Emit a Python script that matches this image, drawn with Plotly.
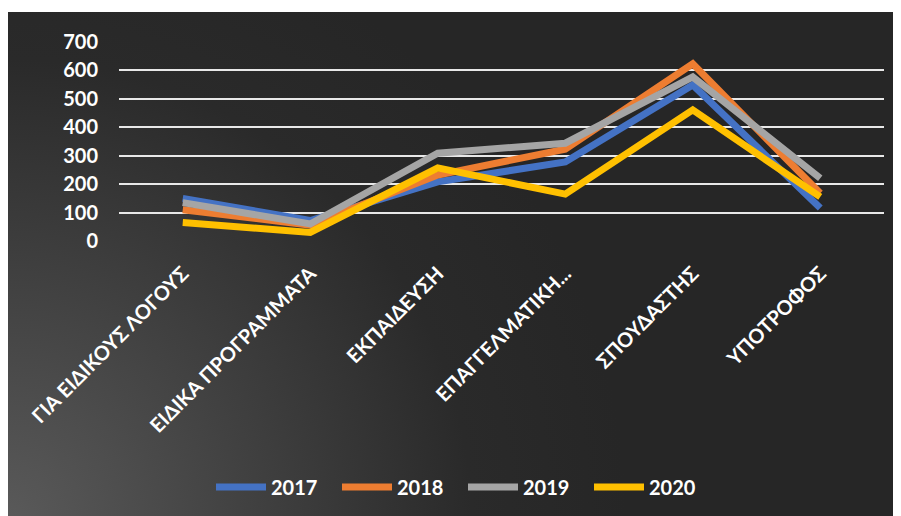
import base64
import plotly.graph_objects as go

categories = ["ΓΙΑ ΕΙΔΙΚΟΥΣ ΛΟΓΟΥΣ", "ΕΙΔΙΚΑ ΠΡΟΓΡΑΜΜΑΤΑ", "ΕΚΠΑΙΔΕΥΣΗ",
              "ΕΠΑΓΓΕΛΜΑΤΙΚΗ...", "ΣΠΟΥΔΑΣΤΗΣ", "ΥΠΟΤΡΟΦΟΣ"]
v2017 = [150, 72, 208, 278, 549, 116]
v2018 = [110, 56, 232, 323, 623, 168]
v2019 = [135, 60, 309, 344, 577, 221]
v2020 = [65, 30, 257, 165, 461, 155]
series = [("2017", v2017, "#4472C4"), ("2018", v2018, "#ED7D31"),
          ("2019", v2019, "#A5A5A5"), ("2020", v2020, "#FFC000")]
yticks = [0, 100, 200, 300, 400, 500, 600, 700]

W, H = 901, 516
OFF = 8  # page body offset
L, R, T, B = 119 - OFF, 25, 42 - OFF, 283

fig = go.Figure()
for name, vals, col in series:
    fig.add_trace(go.Scatter(x=categories, y=vals, name=name, mode="lines",
                             line=dict(color=col, width=7), cliponaxis=False))

svg = ('<svg xmlns="http://www.w3.org/2000/svg" width="902" height="512" viewBox="0 0 902 512" preserveAspectRatio="none">'
       '<defs><radialGradient id="g" cx="0" cy="512" r="620" gradientUnits="userSpaceOnUse">'
       '<stop offset="0" stop-color="#5a5a5a"/><stop offset="0.75" stop-color="#2a2a2a"/>'
       '<stop offset="1" stop-color="#262626"/></radialGradient></defs>'
       '<rect width="902" height="512" fill="#262626"/>'
       '<rect width="902" height="512" fill="url(#g)"/></svg>')
src = "data:image/svg+xml;base64," + base64.b64encode(svg.encode()).decode()

pw = W - L - R
ph = H - T - B
px0, px1 = 7 - OFF, W
py0, py1 = 12 - OFF, H
x0 = (px0 - L) / pw
x1 = (px1 - L) / pw
y_top = (H - B - py0) / ph
y_bot = (H - B - py1) / ph

fig.add_layout_image(dict(source=src, xref="paper", yref="paper", x=x0, y=y_top,
                          sizex=x1 - x0, sizey=y_top - y_bot, sizing="stretch",
                          xanchor="left", yanchor="top", layer="below"))

fig.update_layout(
    width=W, height=H,
    margin=dict(l=L, r=R, t=T, b=B, autoexpand=False),
    paper_bgcolor="white", plot_bgcolor="rgba(0,0,0,0)",
    font=dict(family="Lato", color="white"),
    showlegend=True,
    legend=dict(orientation="h", xref="container", yref="container",
                x=(211 - OFF) / W, y=1 - (487 - OFF) / H, xanchor="left", yanchor="middle",
                font=dict(size=20, family="Lato", weight="bold", color="white"),
                bgcolor="rgba(0,0,0,0)", itemwidth=50, tracegroupgap=0,
                entrywidth=61, entrywidthmode="pixels"),
    xaxis=dict(showgrid=False, zeroline=False, showline=False, ticks="",
               range=[-0.5, 5.5], automargin=False,
               tickangle=-45, tickfont=dict(size=20, family="Lato", weight="bold", color="white"),
               ticklabelstandoff=16),
    yaxis=dict(range=[0, 700], tickvals=yticks, showgrid=True, gridcolor="#e8e8e8",
               gridwidth=2, zeroline=False, showline=False, ticks="", automargin=False,
               tickfont=dict(size=20, family="Lato", weight="bold", color="white"),
               ticklabelstandoff=20),
)

fig.write_html("out.html")
